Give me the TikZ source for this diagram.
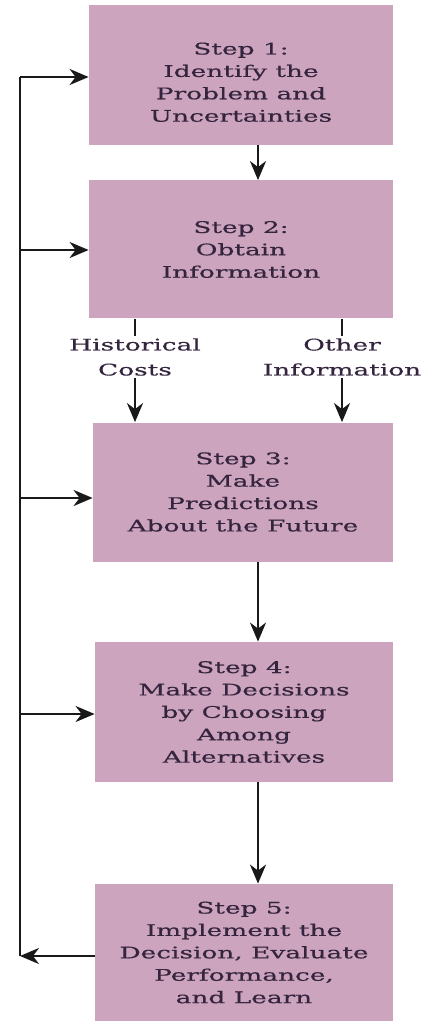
\documentclass[tikz,border=0pt]{standalone}
\usepackage{fontspec}
\setmainfont{DejaVu Serif}
\newfontfamily\boxfont[FakeStretch=1.65,FakeBold=0.5]{DejaVu Serif}
\usetikzlibrary{arrows.meta}
\definecolor{boxfill}{RGB}{205,164,190}
\definecolor{txt}{RGB}{52,36,62}
\definecolor{ln}{RGB}{25,25,25}
\begin{document}
\begin{tikzpicture}[x=0.5pt,y=-0.5pt,
  stepbox/.style={fill=boxfill, draw=none, text=txt, align=center, inner sep=0pt,
    font=\boxfont\fontsize{8}{11.2}\selectfont},
  lbl/.style={text=txt, align=center, inner sep=1pt,
    font=\boxfont\fontsize{8}{12.5}\selectfont},
  conn/.style={line width=1.1pt, draw=ln},
  arr/.style={conn, -{Stealth[length=9.5pt,width=8pt,inset=3pt]}}]
\useasboundingbox (0,0) rectangle (433,1021);
\node[stepbox, minimum width=152pt, minimum height=70pt] (b1) at (241,75)
  {\mbox{}\\[2pt]Step 1:\\Identify the\\Problem and\\Uncertainties};
\node[stepbox, minimum width=152pt, minimum height=69pt] (b2) at (241,249.5)
  {Step 2:\\Obtain\\Information};
\node[stepbox, minimum width=150pt, minimum height=69.5pt] (b3) at (243,492)
  {Step 3:\\Make\\Predictions\\About the Future};
\node[stepbox, minimum width=149pt, minimum height=70pt] (b4) at (244,712)
  {Step 4:\\Make Decisions\\by Choosing\\Among\\Alternatives};
\node[stepbox, minimum width=149pt, minimum height=68.5pt] (b5) at (244,952.5)
  {Step 5:\\Implement the\\Decision, Evaluate\\Performance,\\and Learn};
\node[lbl] (hc) at (135,357) {Historical\\Costs};
\node[lbl] (oi) at (342,357) {Other\\Information};
\coordinate (ax) at (258,0);
\coordinate (L1) at (20,77);
\coordinate (L2) at (20,250);
\coordinate (L3) at (20,498);
\coordinate (L4) at (20,714);
\coordinate (L5) at (20,956);
% main flow
\draw[arr] (b1.south -| ax) -- (b2.north -| ax);
\draw[conn] (b2.south -| hc) -- (hc.north);
\draw[conn] (b2.south -| oi) -- (oi.north);
\draw[arr] (hc.south) -- (b3.north -| hc);
\draw[arr] (oi.south) -- (b3.north -| oi);
\draw[arr] (b3.south -| ax) -- (b4.north -| ax);
\draw[arr] (b4.south -| ax) -- (b5.north -| ax);
% feedback loop
\draw[conn, line width=1.3pt] (L5) -- (L1);
\draw[arr] (L5 -| b5.west) -- (L5);
\draw[arr] (L1) -- (L1 -| b1.west);
\draw[arr] (L2) -- (L2 -| b2.west);
\draw[arr] (L3) -- (L3 -| b3.west);
\draw[arr] (L4) -- (L4 -| b4.west);
\end{tikzpicture}
\end{document}
